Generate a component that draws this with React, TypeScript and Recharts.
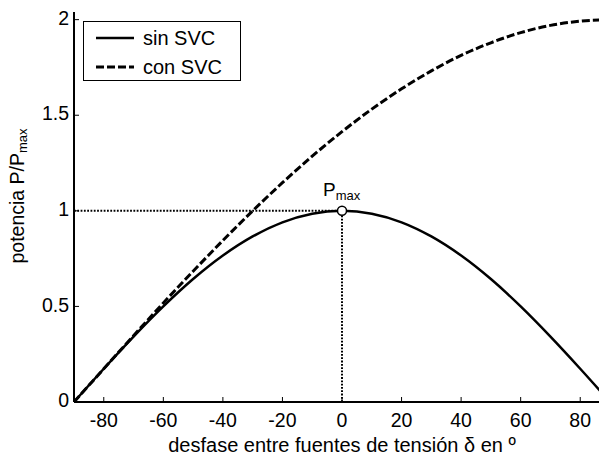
import React from 'react';
import {
  LineChart, Line, XAxis, YAxis, ReferenceLine, ReferenceDot, Legend, Label,
} from 'recharts';

// phase angle between sources, degrees
const delta = [-90, -80, -70, -60, -50, -40, -30, -20, -10, 0, 10, 20, 30, 40, 50, 60, 70, 80, 90];
// normalized power without compensation
const sinSVC = [0, 0.174, 0.342, 0.5, 0.643, 0.766, 0.866, 0.94, 0.985, 1, 0.985, 0.94, 0.866, 0.766, 0.643, 0.5, 0.342, 0.174, 0];
// normalized power with SVC at midpoint
const conSVC = [0, 0.174, 0.347, 0.518, 0.684, 0.845, 1.0, 1.147, 1.286, 1.414, 1.532, 1.638, 1.732, 1.813, 1.879, 1.932, 1.97, 1.992, 2.0];

const xTicks = [-80, -60, -40, -20, 0, 20, 40, 60, 80];
const yTicks = [0, 0.5, 1, 1.5, 2];

const data = delta.map((d, i) => ({ delta: d, sin: sinSVC[i], con: conSVC[i] }));

const peakIdx = sinSVC.indexOf(Math.max(...sinSVC));
const pmaxX = delta[peakIdx];
const pmaxY = sinSVC[peakIdx];

const FONT = '"Liberation Sans", Arial, Helvetica, sans-serif';
const PLOT_LEFT = 74;
const PLOT_TOP = 12;
const PLOT_BOTTOM = 402;

const BottomTick = (props: any) => {
  const { x, payload } = props;
  return (
    <g>
      <line x1={x} x2={x} y1={PLOT_BOTTOM} y2={PLOT_BOTTOM - 5} stroke="#000" strokeWidth={1} />
      <text x={x} y={422} textAnchor="middle" dominantBaseline="middle" fontSize={19.5} fontFamily={FONT} fill="#000">
        {payload.value}
      </text>
    </g>
  );
};

const TopTick = (props: any) => {
  const { x } = props;
  return <line x1={x} x2={x} y1={PLOT_TOP} y2={PLOT_TOP + 5} stroke="#000" strokeWidth={1} />;
};

const LeftTick = (props: any) => {
  const { y, payload } = props;
  return (
    <g>
      <line x1={PLOT_LEFT} x2={PLOT_LEFT + 5} y1={y} y2={y} stroke="#000" strokeWidth={1} />
      <text x={PLOT_LEFT - 5} y={y} textAnchor="end" dominantBaseline="middle" fontSize={19.5} fontFamily={FONT} fill="#000">
        {payload.value}
      </text>
    </g>
  );
};

const LegendBox = () => (
  <div style={{
    border: '1.5px solid #000', background: '#fff', width: 158, height: 60,
    fontFamily: FONT, fontSize: 20, position: 'relative', boxSizing: 'border-box',
  }}>
    {[{ name: 'sin SVC', dash: undefined, w: 2.5 }, { name: 'con SVC', dash: '8 3', w: 3 }].map((it, i) => (
      <div key={it.name} style={{ position: 'absolute', left: 11, top: 4 + i * 29, height: 24, display: 'flex', alignItems: 'center' }}>
        <svg width={40} height={10}>
          <line x1={1} x2={39} y1={5} y2={5} stroke="#000" strokeWidth={it.w} strokeDasharray={it.dash} />
        </svg>
        <span style={{ marginLeft: 8, lineHeight: '24px' }}>{it.name}</span>
      </div>
    ))}
  </div>
);

export default function App() {
  return (
    <div style={{ position: 'absolute', left: 0, top: 0, width: 599, height: 458, overflow: 'hidden', background: '#fff' }}>
      <LineChart width={625} height={458} data={data} margin={{ top: PLOT_TOP, right: 15, bottom: 0, left: 14 }}>
        <XAxis
          dataKey="delta" type="number" domain={[-90, 90]} ticks={xTicks} height={56}
          axisLine={{ stroke: '#000', strokeWidth: 2 }} tickLine={false} tick={<BottomTick />} interval={0}
        >
          <Label
            content={() => (
              <text x={342} y={447} textAnchor="middle" dominantBaseline="middle" fontSize={20} fontFamily={FONT} fill="#000">
                desfase entre fuentes de tensión δ en º
              </text>
            )}
          />
        </XAxis>
        <XAxis
          xAxisId="top" orientation="top" dataKey="delta" type="number" domain={[-90, 90]} ticks={xTicks} height={0}
          axisLine={{ stroke: '#000', strokeWidth: 2 }} tickLine={false} tick={<TopTick />} interval={0}
        />
        <YAxis
          type="number" domain={[0, 2.04]} ticks={yTicks} width={60} allowDataOverflow
          axisLine={{ stroke: '#000', strokeWidth: 2 }} tickLine={false} tick={<LeftTick />} interval={0}
        >
          <Label
            content={() => (
              <text transform="translate(19,196) rotate(-90)" textAnchor="middle" dominantBaseline="middle" fontSize={19.5} fontFamily={FONT} fill="#000">
                potencia P/P<tspan fontSize={13} dy={5}>max</tspan>
              </text>
            )}
          />
        </YAxis>
        <Legend
          layout="horizontal" align="center" verticalAlign="middle"
          wrapperStyle={{ left: 83, top: 21, width: 'auto', height: 'auto' }}
          content={() => <LegendBox />}
        />
        <ReferenceLine
          segment={[{ x: -90, y: pmaxY }, { x: pmaxX, y: pmaxY }]}
          stroke="#000" strokeWidth={2} strokeDasharray="1.8 1.5"
        />
        <ReferenceLine
          segment={[{ x: pmaxX, y: 0 }, { x: pmaxX, y: pmaxY }]}
          stroke="#000" strokeWidth={2} strokeDasharray="1.8 1.5"
        />
        <Line
          dataKey="sin" name="sin SVC" type="monotone" stroke="#000" strokeWidth={2.5}
          dot={false} activeDot={false} isAnimationActive={false}
        />
        <Line
          dataKey="con" name="con SVC" type="monotone" stroke="#000" strokeWidth={3} strokeDasharray="8 3"
          dot={false} activeDot={false} isAnimationActive={false}
        />
        <ReferenceDot
          x={pmaxX} y={pmaxY} r={4.5} fill="#fff" stroke="#000" strokeWidth={1.5}
          label={(p: any) => {
            const vb = p.viewBox || {};
            const cx = (vb.x ?? 0) + (vb.width ?? 0) / 2;
            const cy = vb.y ?? 0;
            return (
              <text x={cx - 19} y={cy - 10} fontSize={19} fontFamily={FONT} fill="#000">
                P<tspan fontSize={13} dy={4}>max</tspan>
              </text>
            );
          }}
        />
      </LineChart>
    </div>
  );
}
